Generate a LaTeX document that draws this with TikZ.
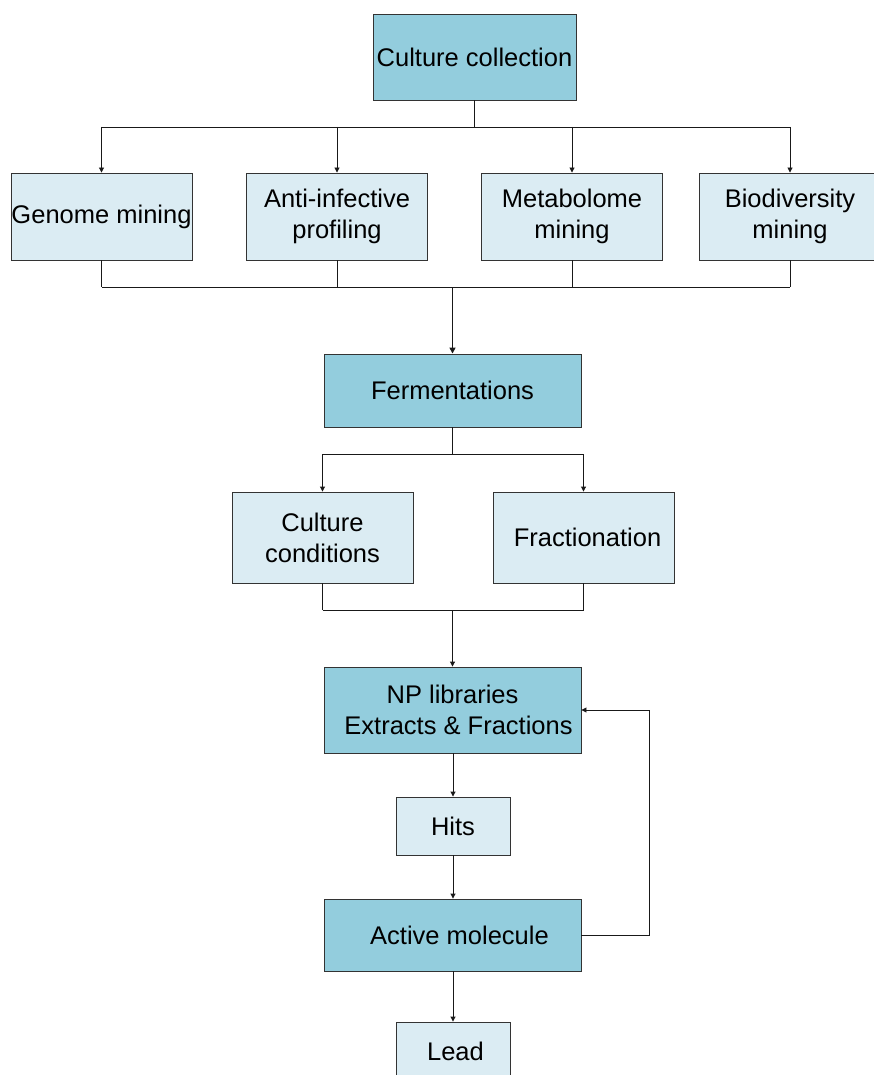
\documentclass[tikz,border=0pt]{standalone}
\usepackage{fontspec}
\setmainfont{Liberation Sans}
\usetikzlibrary{positioning,arrows.meta,calc}
\definecolor{stagefill}{RGB}{147,205,221}
\definecolor{stepfill}{RGB}{219,236,243}
\tikzset{
  stagebox/.style={draw=black!80,line width=0.9pt,fill=stagefill,align=center,
    inner sep=0pt,font=\fontsize{25.5}{31}\selectfont},
  stepbox/.style={stagebox,fill=stepfill},
  link/.style={draw=black!90,line width=0.9pt},
  trunk/.style={link,line width=1.8pt},
  arr/.style={link,-{Triangle[length=5pt,width=5pt]}}
}

\begin{document}
\begin{tikzpicture}[x=1pt,y=-1pt]
\useasboundingbox (0,0) rectangle (873,1075);
% collection and the four screening routes
\node[stagebox,minimum width=203,minimum height=86] (cc) at (474.5,57) {Culture collection};
\foreach \nm/\x/\txt in {genome/101.5/Genome mining,
                          anti/337/Anti-infective\\profiling,
                          meta/572/Metabolome\\mining,
                          bio/790/Biodiversity\\mining} {
  \node[stepbox,minimum width=181,minimum height=87] (\nm) at (\x,216.5) {\txt};
}
% production side
\node[stagebox,minimum width=257,minimum height=73] (ferm) at (452.5,390.5) {Fermentations};
\node[stepbox,minimum width=181,minimum height=91] (cond) at (322.5,537.5) {Culture\\conditions};
\node[stepbox,minimum width=181,minimum height=91] (frac) at (583.5,537.5) {\hspace*{8pt}Fractionation};
% screening chain
\node[stagebox,minimum width=257,minimum height=86] (np) at (452.5,710) {NP libraries\\\hspace*{12pt}Extracts \& Fractions};
\node[stepbox,minimum width=114,minimum height=58] (hits) at (453,826) {Hits};
\node[stagebox,minimum width=257,minimum height=72] (active) at (452.5,935) {\hspace*{14pt}Active molecule};
\node[stepbox,minimum width=114,minimum height=58] (lead) at (453,1051) {\hspace*{5pt}Lead};
% bus levels
\coordinate (topbus) at (0,127);
\coordinate (midbus) at (0,287);
\coordinate (splitbus) at (0,454);
\coordinate (mergebus) at (0,610);
\coordinate (loop) at (649,0);
% fan-out from the collection
\draw[trunk] (cc.south) -- (cc.south |- topbus);
\draw[link] (genome.north |- topbus) -- (bio.north |- topbus);
\foreach \nm in {genome,anti,meta,bio}
  \draw[arr] (\nm.north |- topbus) -- (\nm.north);
% merge into fermentations
\foreach \nm in {genome,anti,meta,bio}
  \draw[link] (\nm.south) -- (\nm.south |- midbus);
\draw[link] (genome.south |- midbus) -- (bio.south |- midbus);
\draw[trunk,-{Triangle[length=6pt,width=6pt]}] (ferm.north |- midbus) -- (ferm.north);
% split and merge after fermentations
\draw[link] (ferm.south) -- (ferm.south |- splitbus);
\draw[link] (cond.north |- splitbus) -- (frac.north |- splitbus);
\foreach \nm in {cond,frac} {
  \draw[arr] (\nm.north |- splitbus) -- (\nm.north);
  \draw[link] (\nm.south) -- (\nm.south |- mergebus);
}
\draw[link] (cond.south |- mergebus) -- (frac.south |- mergebus);
\draw[arr] (np.north |- mergebus) -- (np.north);
% chain down to the lead
\draw[arr] (np.south -| hits.north) -- (hits.north);
\draw[arr] (hits.south) -- (hits.south |- active.north);
\draw[arr] (hits.south |- active.south) -- (lead.north);
% feedback loop
\draw[arr] (active.east) -- (active.east -| loop) |- (np.east);
\end{tikzpicture}
\end{document}
